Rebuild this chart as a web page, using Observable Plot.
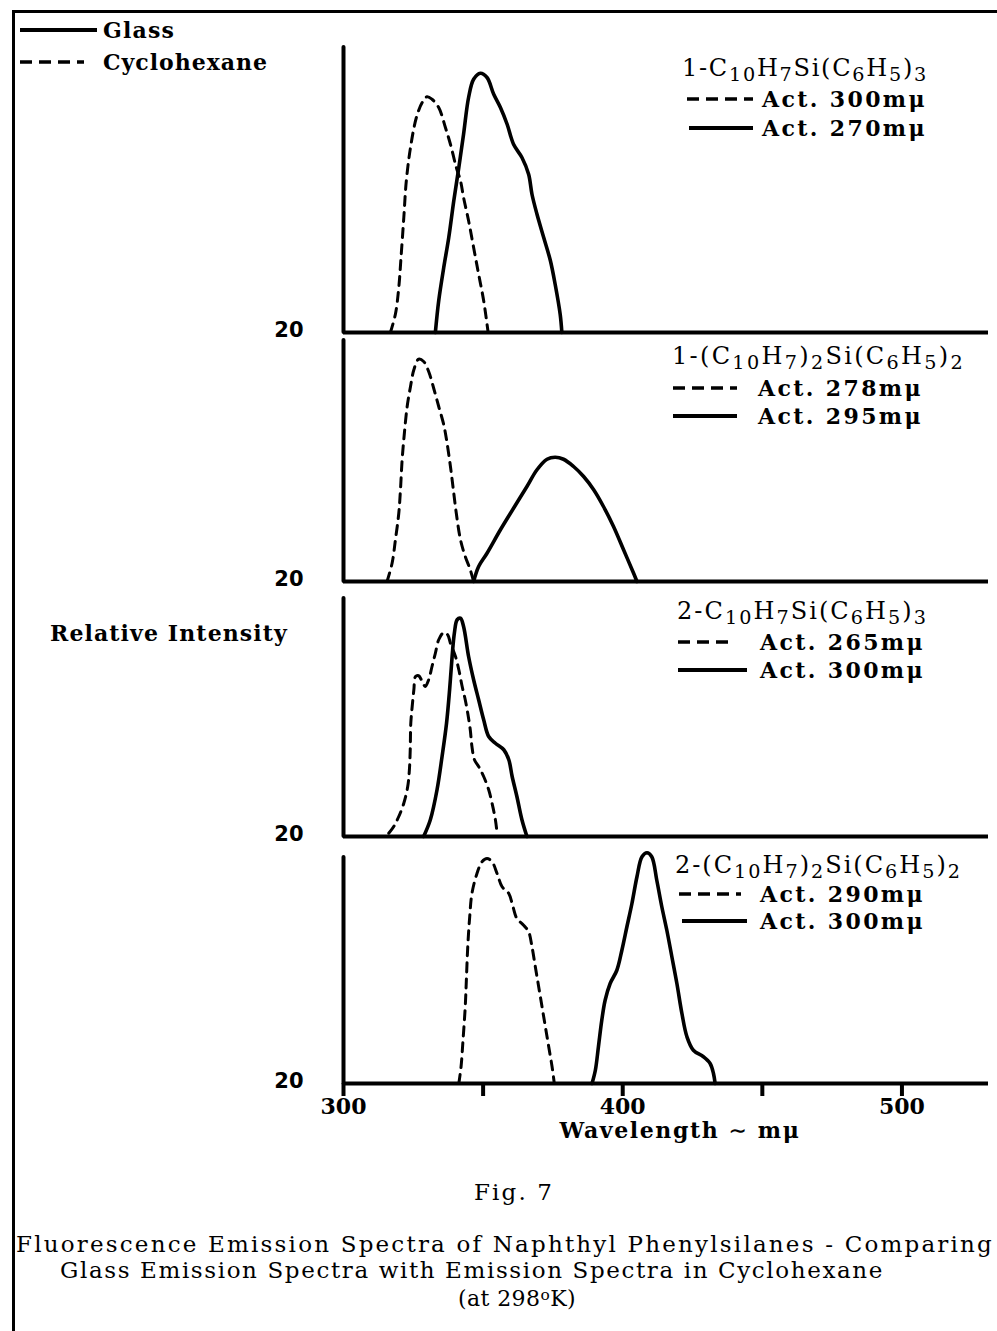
<!DOCTYPE html>
<html><head><meta charset="utf-8">
<script src="https://cdn.jsdelivr.net/npm/d3@7"></script>
<script src="https://cdn.jsdelivr.net/npm/@observablehq/plot@0.6"></script>
<style>
body{margin:0;background:#fff}
#page{position:relative;width:997px;height:1331px;overflow:hidden;background:#fff;font-family:"DejaVu Serif",serif;color:#000}
.t{position:absolute;white-space:nowrap;line-height:1;transform:translateY(-50%)}
.b{font-weight:bold}
.t sub{font-size:80%;vertical-align:-0.25em;line-height:0}
.plotbox{position:absolute;left:0}
</style></head><body><div id="page"></div>
<script>
// ---------------- data (wavelength in mμ, relative intensity) ----------------
const wavelengthTicks = [300, 350, 400, 450, 500];
const compounds = [
  "1-C<sub>10</sub>H<sub>7</sub>Si(C<sub>6</sub>H<sub>5</sub>)<sub>3</sub>",
  "1-(C<sub>10</sub>H<sub>7</sub>)<sub>2</sub>Si(C<sub>6</sub>H<sub>5</sub>)<sub>2</sub>",
  "2-C<sub>10</sub>H<sub>7</sub>Si(C<sub>6</sub>H<sub>5</sub>)<sub>3</sub>",
  "2-(C<sub>10</sub>H<sub>7</sub>)<sub>2</sub>Si(C<sub>6</sub>H<sub>5</sub>)<sub>2</sub>"
];
const cyclohexaneAct = [300, 278, 265, 290];
const glassAct = [270, 295, 300, 300];

const glass1 = [[332.9,0],[334.1,12.7],[335.9,26],[337.7,38],[339.5,52.7],[341.3,66],[343.0,79.3],[344.8,94],[346.6,101.3],[349.0,103.7],[351.4,102],[353.8,95.3],[356.2,90],[358.6,83.3],[360.9,75.3],[363.9,70],[366.3,63.3],[367.5,55.3],[369.3,47.3],[371.7,38],[374.1,28.7],[375.8,19.3],[377.6,7.3],[378.2,0]];
const cyclo1 = [[316.8,0],[318.6,7.4],[319.8,18],[320.6,30],[321.6,46],[322.5,60.7],[324.0,74],[326.1,86],[328.2,92],[329.9,94.3],[331.7,93.3],[334.1,90],[336.5,82],[338.3,75.3],[340.4,66],[341.9,60.7],[343.0,54],[344.8,44.7],[346.6,34],[348.4,23.3],[350.2,12.7],[351.8,0]];
const glass2 = [[346.6,0],[348.4,6],[351.4,11.3],[356.2,20.7],[360.9,29.3],[365.7,38],[369.3,44.7],[372.9,48.9],[375.8,49.7],[378.8,48.9],[382.4,46],[386.0,42],[389.6,36.7],[393.1,30],[396.7,22],[400.3,12.7],[403.9,3.3],[405.1,0]];
const cyclo2 = [[315.6,0],[317.4,7.3],[318.6,16.7],[319.8,27.3],[320.4,36.7],[321.0,48.7],[321.8,59.3],[322.8,70],[324.0,78],[325.2,84.7],[326.9,88.9],[328.7,88],[330.5,84],[332.3,77.3],[334.1,70],[335.9,62.7],[337.1,55.3],[338.3,46],[339.2,38],[340.4,27.3],[341.9,16.7],[343.6,10],[345.4,4.7],[346.6,0]];
const glass3 = [[328.7,0],[331.1,6.7],[333.5,18.7],[335.3,32],[336.9,45.3],[338.0,58.7],[338.9,72],[339.7,81.3],[340.7,86.7],[341.9,87.3],[343.0,84],[344.8,72],[346.6,62.7],[348.4,54.7],[350.2,46.7],[352.0,40],[354.4,37.3],[357.4,34.7],[359.2,30.7],[360.4,24],[362.1,16],[363.9,6.7],[365.7,0]];
const cyclo3 = [[316.2,1.3],[318.0,4],[319.8,8],[321.6,13.3],[323.0,20],[323.6,26.7],[323.9,34.7],[324.1,45.3],[324.6,52],[325.2,58.7],[325.8,64],[326.9,64.3],[328.2,62],[329.3,60],[330.5,62.7],[331.7,68],[332.9,73.3],[334.1,78.7],[335.9,81.6],[337.3,80.7],[338.3,77.3],[340.1,72],[341.3,66.7],[342.5,60],[343.6,54.7],[344.5,49.3],[345.4,42.7],[346.0,36],[346.9,30.7],[348.4,28],[350.2,24],[352.0,18.7],[353.2,13.3],[354.4,6.7],[355.0,1.3]];
const glass4 = [[389.0,0],[390.2,5.3],[391.3,14.7],[392.5,25.3],[393.7,33.3],[395.5,40],[397.9,45.3],[399.7,53.3],[401.5,62.7],[403.3,72],[405.1,82.7],[406.9,90.7],[408.7,92.3],[410.4,90.7],[412.2,81.3],[414.0,70.7],[415.8,61.3],[417.6,50.7],[419.4,40],[421.2,28],[423.0,18.7],[425.3,13.3],[428.9,10.7],[431.3,8],[432.5,4],[433.1,0]];
const cyclo4 = [[341.3,0],[342.1,6.7],[342.8,17.3],[343.6,30.7],[344.0,41.3],[344.5,54.7],[345.2,66.7],[346.0,76],[347.8,84],[349.6,88.7],[351.4,90],[353.2,88.7],[355.0,84],[356.8,78.7],[359.2,76],[360.7,70.7],[362.1,66],[364.5,63.3],[366.3,60.7],[367.5,54.7],[368.7,46.7],[369.9,38.7],[371.1,30.7],[372.3,22.7],[373.5,14.7],[374.7,6.7],[375.5,0]];

const glassSeries = [glass1, glass2, glass3, glass4];
const cycloSeries = [cyclo1, cyclo2, cyclo3, cyclo4];
const axisTop = [114, 96.4, 95.2, 90.4];   // top of each intensity axis (data units)
const xDomain = [300, 531];

// ---------------- layout ----------------
const page = document.getElementById("page");
const PX = 2.5;                         // px per intensity unit
const baselines = [332, 581, 836, 1083];
const heads = [
  {x:682, y:68,  w:246, ax:762, y1:99,  y2:128, dx0:687, dx1:753, sx0:689, sx1:753},
  {x:672, y:356, w:293, ax:758, y1:388, y2:416, dx0:673, dx1:737, sx0:673, sx1:737},
  {x:677, y:611, w:251, ax:760, y1:642, y2:670, dx0:678, dx1:733, sx0:678, sx1:747},
  {x:675, y:865, w:287, ax:760, y1:894, y2:921, dx0:679, dx1:741, sx0:682, sx1:747}
];

function addText(html, x, y, w, cls, size, anchor) {
  const el = document.createElement("div");
  el.className = "t " + (cls || "");
  el.innerHTML = html;
  el.style.fontSize = size + "px";
  page.appendChild(el);
  if (w) {
    const n = el.textContent.length;
    const cur = el.getBoundingClientRect().width;
    el.style.letterSpacing = ((w - cur) / n) + "px";
  }
  const fw = el.getBoundingClientRect().width;
  el.style.left = (anchor === "middle" ? x - fw / 2 : anchor === "end" ? x - fw : x) + "px";
  el.style.top = y + "px";
  return el;
}

// frame (scanned page border)
const bl = document.createElement("div");
bl.style.cssText = "position:absolute;left:12px;top:10px;width:3px;height:1321px;background:#000";
page.appendChild(bl);
const bt = document.createElement("div");
bt.style.cssText = "position:absolute;left:12px;top:10px;width:985px;height:3px;background:#000";
page.appendChild(bt);

// panels
for (let i = 0; i < 4; i++) {
  const last = i === 3;
  const H = axisTop[i] * PX;
  const mt = 14, mb = last ? 90 : 12;
  const marks = [
    Plot.ruleY([0], {strokeWidth: 4}),
    Plot.ruleX([xDomain[0]], {y1: 0, y2: axisTop[i], strokeWidth: 4, strokeLinecap: "round"}),
    Plot.line(cycloSeries[i], {x: d => d[0], y: d => d[1], curve: "catmull-rom", strokeWidth: 3, strokeDasharray: "9,7"}),
    Plot.line(glassSeries[i], {x: d => d[0], y: d => d[1], curve: "catmull-rom", strokeWidth: 3.6}),
    Plot.text(["20"], {text: d => d, frameAnchor: "bottom-left", dx: -40, dy: 4, textAnchor: "end",
      fontSize: 21, fontWeight: "bold", fontFamily: "DejaVu Sans"})
  ];
  if (last) {
    marks.push(Plot.axisX(wavelengthTicks, {tickSize: 13, tickPadding: 2, strokeWidth: 4,
      tickFormat: d => d % 100 === 0 ? String(d) : "", fontSize: 22, fontWeight: "bold", fontFamily: "DejaVu Serif"}));
    marks.push(Plot.text(["Wavelength ∼ mμ"], {text: d => d, frameAnchor: "bottom", dx: 14, dy: 54,
      fontSize: 22, fontWeight: "bold", fontFamily: "DejaVu Serif"}));
  }
  const svg = Plot.plot({
    width: 997, height: mt + H + mb,
    marginTop: mt, marginBottom: mb, marginLeft: 343, marginRight: 9,
    x: last ? {domain: xDomain} : {domain: xDomain, axis: null},
    y: {domain: [0, axisTop[i]], axis: null},
    style: {background: "transparent", overflow: "visible", fontFamily: "DejaVu Serif"},
    marks
  });
  const box = document.createElement("div");
  box.className = "plotbox";
  box.style.top = (baselines[i] - H - mt) + "px";
  box.appendChild(svg);
  page.appendChild(box);
  if (last) {
    d3.select(svg).selectAll("text")
      .filter(function () { return this.textContent.startsWith("Wavelength"); })
      .attr("letter-spacing", "1.6px");
  }
}

// key line samples (legend keys)
const keys = d3.select(page).append("svg")
  .attr("width", 997).attr("height", 1331)
  .style("position", "absolute").style("left", 0).style("top", 0).style("pointer-events", "none");
function keyLine(x0, x1, y, dashed) {
  keys.append("line").attr("x1", x0).attr("x2", x1).attr("y1", y).attr("y2", y)
    .attr("stroke", "#000").attr("stroke-width", dashed ? 3.5 : 4)
    .attr("stroke-dasharray", dashed ? "12,7" : null);
}

// top-left legend
keyLine(20, 97, 30, false);
addText("Glass", 103, 30, 72, "b", 22);
keyLine(20, 84, 62, true);
addText("Cyclohexane", 103, 62, 165, "b", 22);

// panel headings
heads.forEach((h, i) => {
  addText(compounds[i], h.x, h.y, h.w, "", 24);
  keyLine(h.dx0, h.dx1, h.y1, true);
  addText(`Act. ${cyclohexaneAct[i]}mμ`, h.ax, h.y1, 165, "b", 22);
  keyLine(h.sx0, h.sx1, h.y2, false);
  addText(`Act. ${glassAct[i]}mμ`, h.ax, h.y2, 165, "b", 22);
});

addText("Relative Intensity", 50, 633, 238, "b", 22);

// caption
addText("Fig. 7", 514, 1192, 80, "", 23, "middle");
addText("Fluorescence Emission Spectra of Naphthyl Phenylsilanes - Comparing", 16, 1244, 978, "", 23);
addText("Glass Emission Spectra with Emission Spectra in Cyclohexane", 60, 1270, 824, "", 23);
addText("(at 298<sup style=\"font-size:70%;vertical-align:0.4em;line-height:0\">o</sup>K)", 517, 1299, 118, "", 22, "middle");
</script></body></html>
